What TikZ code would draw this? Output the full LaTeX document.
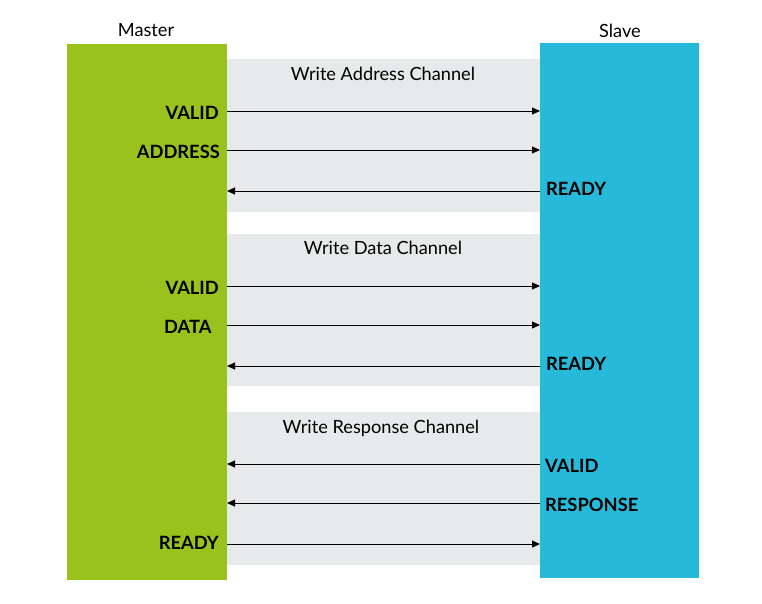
\documentclass[tikz,border=0pt]{standalone}
\usepackage{fontspec}
\setmainfont{Lato}
\usetikzlibrary{arrows.meta}
\definecolor{mgreen}{RGB}{154,194,28}
\definecolor{sblue}{RGB}{39,185,218}
\definecolor{bandgrey}{RGB}{230,234,234}
\tikzset{
  x=1pt,y=-1pt,
  band/.style={fill=bandgrey,draw=none,inner sep=0pt},
  sig/.style={draw=black,line width=0.9pt,-{Triangle[length=8pt,width=7pt]}},
  lbl/.style={font=\fontsize{18.3}{21}\selectfont\bfseries,inner sep=0pt},
  ttl/.style={font=\fontsize{18.2}{21}\selectfont,inner sep=0pt}
}
\begin{document}
\begin{tikzpicture}
\useasboundingbox (0,0) rectangle (762,603);
% bands
\fill[band] (227,59) rectangle (540,212);
\fill[band] (227,234) rectangle (540,386);
\fill[band] (227,412) rectangle (540,565);
% master and slave
\node[fill=mgreen,inner sep=0pt,minimum width=160pt,minimum height=536pt,anchor=north west] (master) at (67,44) {};
\node[fill=sblue,inner sep=0pt,minimum width=159pt,minimum height=535pt,anchor=north west] (slave) at (540,43) {};
\node[ttl] (mt) at (146,30) {Master};
\node[ttl] (st) at (620,31) {Slave};
% channel titles
\node[ttl] (t1) at (383,74) {Write Address Channel};
\node[ttl] (t2) at (383,248) {Write Data Channel};
\node[ttl] (t3) at (381,428) {Write Response Channel};
% coordinates
\foreach \n/\y in {1/111,2/150,3/191,4/286,5/325,6/366,7/464,8/503,9/544}{
  \coordinate (m\n) at (227,\y);
  \coordinate (s\n) at (540,\y);
}
% arrows
\draw[sig] (m1) -- (s1);
\draw[sig] (m2) -- (s2);
\draw[sig] (s3) -- (m3);
\draw[sig] (m4) -- (s4);
\draw[sig] (m5) -- (s5);
\draw[sig] (s6) -- (m6);
\draw[sig] (s7) -- (m7);
\draw[sig] (s8) -- (m8);
\draw[sig] (m9) -- (s9);
% master labels
\node[lbl,anchor=east] (ml1) at (219,113) {VALID};
\node[lbl,anchor=east] (ml2) at (220,152) {ADDRESS};
\node[lbl,anchor=east] (ml4) at (219,288) {VALID};
\node[lbl,anchor=west] (ml5) at (164,327) {DATA};
\node[lbl,anchor=east] (ml9) at (219,543) {READY};
% slave labels
\node[lbl,anchor=west] (sl3) at (546,189) {READY};
\node[lbl,anchor=west] (sl6) at (546,364) {READY};
\node[lbl,anchor=west] (sl7) at (545,466) {VALID};
\node[lbl,anchor=west] (sl8) at (545,505) {RESPONSE};
\end{tikzpicture}
\end{document}
